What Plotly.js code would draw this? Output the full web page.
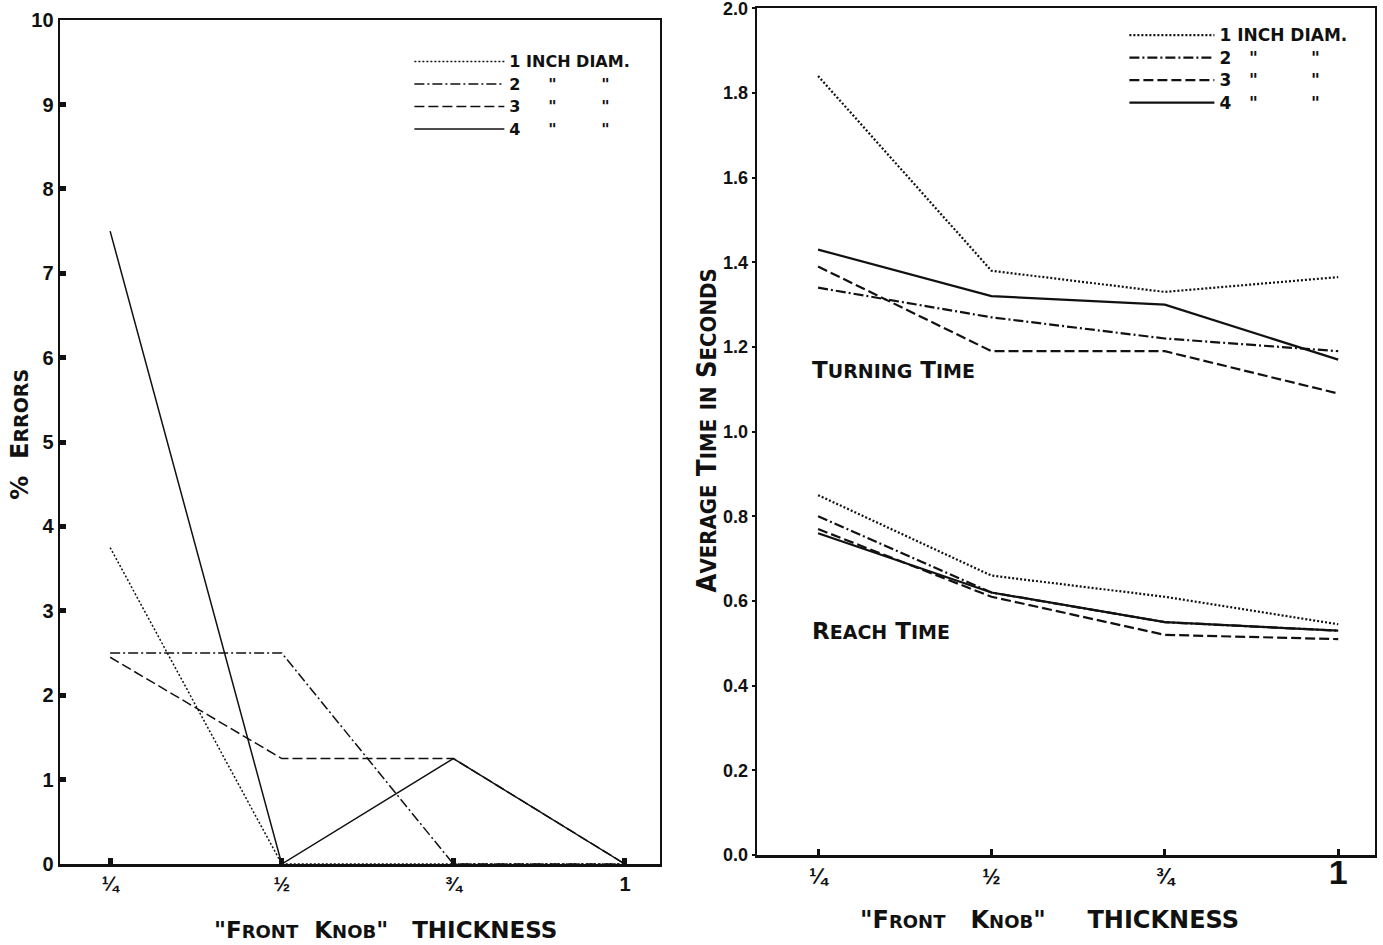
<!DOCTYPE html>
<html>
<head>
<meta charset="utf-8">
<script src="https://cdn.plot.ly/plotly-3.0.1.min.js"></script>
<style>html,body{margin:0;padding:0;background:#fff;}#chart{width:1383px;height:945px;}</style>
</head>
<body>
<div id="chart"></div>
<script>
// Knob thickness (inches) on the x axis of both panels
const thickness = [0.25, 0.5, 0.75, 1];
const thicknessLabels = ['¼', '½', '¾', '1'];

// Percent errors by front-knob diameter
const errors1in = [3.75, 0, 0, 0];
const errors2in = [2.5, 2.5, 0, 0];
const errors3in = [2.45, 1.25, 1.25, 0];
const errors4in = [7.5, 0, 1.25, 0];

// Average turning time (s)
const turn1in = [1.84, 1.38, 1.33, 1.365];
const turn2in = [1.34, 1.27, 1.22, 1.19];
const turn3in = [1.39, 1.19, 1.19, 1.09];
const turn4in = [1.43, 1.32, 1.30, 1.17];

// Average reach time (s)
const reach1in = [0.85, 0.66, 0.61, 0.545];
const reach2in = [0.80, 0.62, 0.55, 0.53];
const reach3in = [0.77, 0.61, 0.52, 0.51];
const reach4in = [0.76, 0.62, 0.55, 0.53];

// Tick values
const errorTicks = [0, 1, 2, 3, 4, 5, 6, 7, 8, 9, 10];
const timeTicks = [0, 0.2, 0.4, 0.6, 0.8, 1.0, 1.2, 1.4, 1.6, 1.8, 2.0];

const NB = '\u00a0';
const sp = n => NB.repeat(n);
const big = (t, s) => '<span style="font-size:' + s + 'px">' + t + '</span>';
const namesLeft = [
  big('1 INCH DIAM.', 16),
  big('2' + sp(5) + '"' + sp(8) + '"', 16),
  big('3' + sp(5) + '"' + sp(8) + '"', 16),
  big('4' + sp(5) + '"' + sp(8) + '"', 16)
];
const namesRight = [
  big('1 INCH DIAM.', 17),
  big('2' + sp(3) + '"' + sp(9) + '"', 17),
  big('3' + sp(3) + '"' + sp(9) + '"', 17),
  big('4' + sp(3) + '"' + sp(9) + '"', 17)
];
const dashes = ['2px,2px', '10px,3px,2px,3px', '10px,4px', 'solid'];

const ink = '#111';
const traces = [];

function addSet(ys, names, xa, ya, legendId, showLeg, width) {
  ys.forEach((y, i) => {
    traces.push({
      x: thickness, y: y, xaxis: xa, yaxis: ya,
      type: 'scatter', mode: 'lines',
      name: names[i],
      legend: legendId,
      showlegend: showLeg,
      line: {color: ink, width: width, dash: dashes[i]},
      hoverinfo: 'skip'
    });
  });
}

addSet([errors1in, errors2in, errors3in, errors4in], namesLeft, 'x', 'y', 'legend', true, 1.5);
addSet([turn1in, turn2in, turn3in, turn4in], namesRight, 'x2', 'y2', 'legend2', true, 2.2);
addSet([reach1in, reach2in, reach3in, reach4in], namesRight, 'x2', 'y2', 'legend2', false, 2.2);

const fontBase = {family: 'Liberation Sans, Arial, sans-serif', color: ink, size: 17, weight: 700};
const titleFont = {family: 'DejaVu Sans, sans-serif', color: ink, size: 23, weight: 700};
const sc = (b, small, ss) => b + '<span style="font-size:' + ss + 'px">' + small + '</span>';

const xTitleLeft = '"' + sc('F', 'RONT', 18) + sp(2) + sc('K', 'NOB', 18) + '"' + sp(3) + 'THICKNESS';
const xTitleRight = '"' + sc('F', 'RONT', 18) + sp(3) + sc('K', 'NOB', 18) + '"' + sp(5) + 'THICKNESS';

const axisCommon = {
  showline: true, mirror: true, linecolor: ink, linewidth: 2.5,
  showgrid: false, zeroline: false, ticks: 'inside', tickcolor: ink,
  tickfont: fontBase, ticklabeloverflow: 'allow'
};

const legendFont = {family: 'DejaVu Sans, sans-serif', color: ink, size: 15, weight: 700};

const layout = {
  width: 1383, height: 945,
  margin: {l: 0, r: 0, t: 0, b: 0},
  paper_bgcolor: '#fff', plot_bgcolor: '#fff',
  showlegend: true,
  xaxis: Object.assign({}, axisCommon, {
    domain: [0.0434, 0.4772], anchor: 'y',
    range: [0.177, 1.051],
    tickvals: thickness, ticktext: thicknessLabels,
    ticklen: 6, tickwidth: 5,
    tickfont: Object.assign({}, fontBase, {size: 20})
  }),
  yaxis: Object.assign({}, axisCommon, {
    domain: [0.0857, 0.9788], anchor: 'x',
    range: [0, 10.001], tickvals: errorTicks, ticklen: 6, tickwidth: 5,
    tickfont: Object.assign({}, fontBase, {size: 20})
  }),
  xaxis2: Object.assign({}, axisCommon, {
    domain: [0.5474, 0.9942], anchor: 'y2',
    range: [0.162, 1.053],
    tickvals: thickness,
    ticktext: ['¼', '½', '¾', '<span style="font-size:34px">1</span>'],
    ticklen: 6, tickwidth: 3,
    tickfont: Object.assign({}, fontBase, {size: 22})
  }),
  yaxis2: Object.assign({}, axisCommon, {
    domain: [0.0952, 0.9915], anchor: 'x2',
    range: [0, 2.0005], tickvals: timeTicks, tickformat: '.1f',
    ticks: 'outside', ticklen: 3, tickwidth: 2,
    tickfont: Object.assign({}, fontBase, {size: 18})
  }),
  legend: {
    x: 0.296, y: 0.952, xanchor: 'left', yanchor: 'top',
    bgcolor: 'rgba(0,0,0,0)', itemwidth: 90,
    font: legendFont,
    tracegroupgap: 0, traceorder: 'normal'
  },
  legend2: {
    x: 0.813, y: 0.98, xanchor: 'left', yanchor: 'top',
    bgcolor: 'rgba(0,0,0,0)', itemwidth: 85,
    font: legendFont,
    tracegroupgap: 0, traceorder: 'normal'
  },
  annotations: [
    // axis titles
    {xref: 'paper', yref: 'paper', x: 0.2784, y: 0.016, xanchor: 'center', yanchor: 'middle',
     text: xTitleLeft, showarrow: false, font: titleFont},
    {xref: 'paper', yref: 'paper', x: 0.7592, y: 0.0265, xanchor: 'center', yanchor: 'middle',
     text: xTitleRight, showarrow: false, font: Object.assign({}, titleFont, {size: 24})},
    {xref: 'paper', yref: 'paper', x: 0.0145, y: 0.54, xanchor: 'center', yanchor: 'middle',
     textangle: -90, text: '%' + sp(2) + sc('E', 'RRORS', 19), showarrow: false,
     font: Object.assign({}, titleFont, {size: 24})},
    {xref: 'paper', yref: 'paper', x: 0.5115, y: 0.545, xanchor: 'center', yanchor: 'middle',
     textangle: -90, showarrow: false,
     text: sc('A', 'VERAGE', 22) + ' ' + sc('T', 'IME', 22) + ' ' + '<span style="font-size:22px">IN</span> ' + sc('S', 'ECONDS', 22),
     font: {family: 'DejaVu Sans Condensed, Liberation Sans Narrow, sans-serif', size: 27, color: ink, weight: 700}},
    // curve group labels
    {xref: 'x2 domain', yref: 'y2', x: 0.085, y: 1.145, xanchor: 'left', yanchor: 'middle',
     text: sc('T', 'URNING', 19) + ' ' + sc('T', 'IME', 19), showarrow: false,
     font: {family: 'DejaVu Sans, sans-serif', size: 23, color: ink, weight: 700}},
    {xref: 'x2 domain', yref: 'y2', x: 0.085, y: 0.53, xanchor: 'left', yanchor: 'middle',
     text: sc('R', 'EACH', 19) + ' ' + sc('T', 'IME', 19), showarrow: false,
     font: {family: 'DejaVu Sans, sans-serif', size: 23, color: ink, weight: 700}}
  ]
};

Plotly.newPlot('chart', traces, layout, {staticPlot: true, displayModeBar: false});
</script>
</body>
</html>
